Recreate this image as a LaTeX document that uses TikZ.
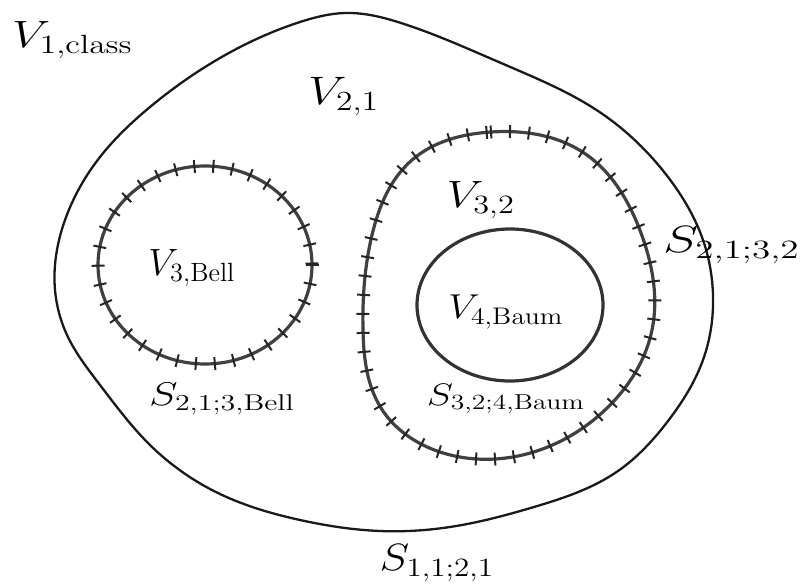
\documentclass[tikz,border=0pt]{standalone}
\usetikzlibrary{decorations.markings,hobby}
\newcommand{\mylab}[3]{\scalebox{#1}[#2]{$#3$}}
\tikzset{
  outer/.style={line width=2.3pt, draw=black!90},
  plain/.style={line width=3.2pt, draw=black!80},
  barbed/.style={line width=3.2pt, draw=black!75,
    postaction={decorate, decoration={markings,
      mark=between positions 0 and 1 step 19pt with {\draw[line width=2pt, black!85] (0,-6.5pt) -- (0,6.5pt);}}}},
  lbl/.style={font=\LARGE, inner sep=0pt}
}
\begin{document}
\begin{tikzpicture}[x=1pt,y=-1pt]
\useasboundingbox (0,0) rectangle (803,588);
% outer region V_{2,1}
\draw[outer, use Hobby shortcut, closed=true] (55,290) .. (65,220) .. (100,157) .. (150,107) .. (220,58) .. (300,22) .. (345,13) .. (401,23) .. (501,63) .. (601,113) .. (668,177) .. (703,240) .. (713,295) .. (703,360) .. (668,421) .. (618,471) .. (534,507) .. (450,527) .. (380,531) .. (300,520) .. (220,494) .. (150,445) .. (100,385) .. (67,335);
% left barbed region V_{3,Bell}
\draw[barbed] (205,265) ellipse [x radius=107, y radius=99];
% right barbed region V_{3,2}
\draw[barbed, use Hobby shortcut, closed=true] (491,132) .. (584,153) .. (641,233) .. (652,330) .. (605,410) .. (518,456) .. (440,452) .. (381,408) .. (363,330) .. (372,235) .. (412,160);
% inner region V_{4,Baum}
\draw[plain] (510,305) ellipse [x radius=93, y radius=76];
% labels
\node[lbl, anchor=west] (v1) at (12,40) {\mylab{2.8}{2.2}{V_{1,\mathrm{class}}}};
\node[lbl] (v2) at (344,97) {\mylab{2.8}{2.3}{V_{2,1}}};
\node[lbl] (v3b) at (192,268) {\mylab{2.2}{2.2}{V_{3,\mathrm{Bell}}}};
\node[lbl] (v32) at (481,200) {\mylab{2.7}{2.2}{V_{3,2}}};
\node[lbl] (v4) at (506,312) {\mylab{2.3}{2.0}{V_{4,\mathrm{Baum}}}};
\node[lbl] (s3b) at (222,399) {\mylab{2.5}{1.9}{S_{2,1;3,\mathrm{Bell}}}};
\node[lbl] (s4) at (506,399) {\mylab{2.3}{1.8}{S_{3,2;4,\mathrm{Baum}}}};
\node[lbl, anchor=west] (s32) at (663,245) {\mylab{3.1}{2.2}{S_{2,1;3,2}}};
\node[lbl] (s21) at (437,563) {\mylab{2.6}{2.2}{S_{1,1;2,1}}};
\end{tikzpicture}
\end{document}
